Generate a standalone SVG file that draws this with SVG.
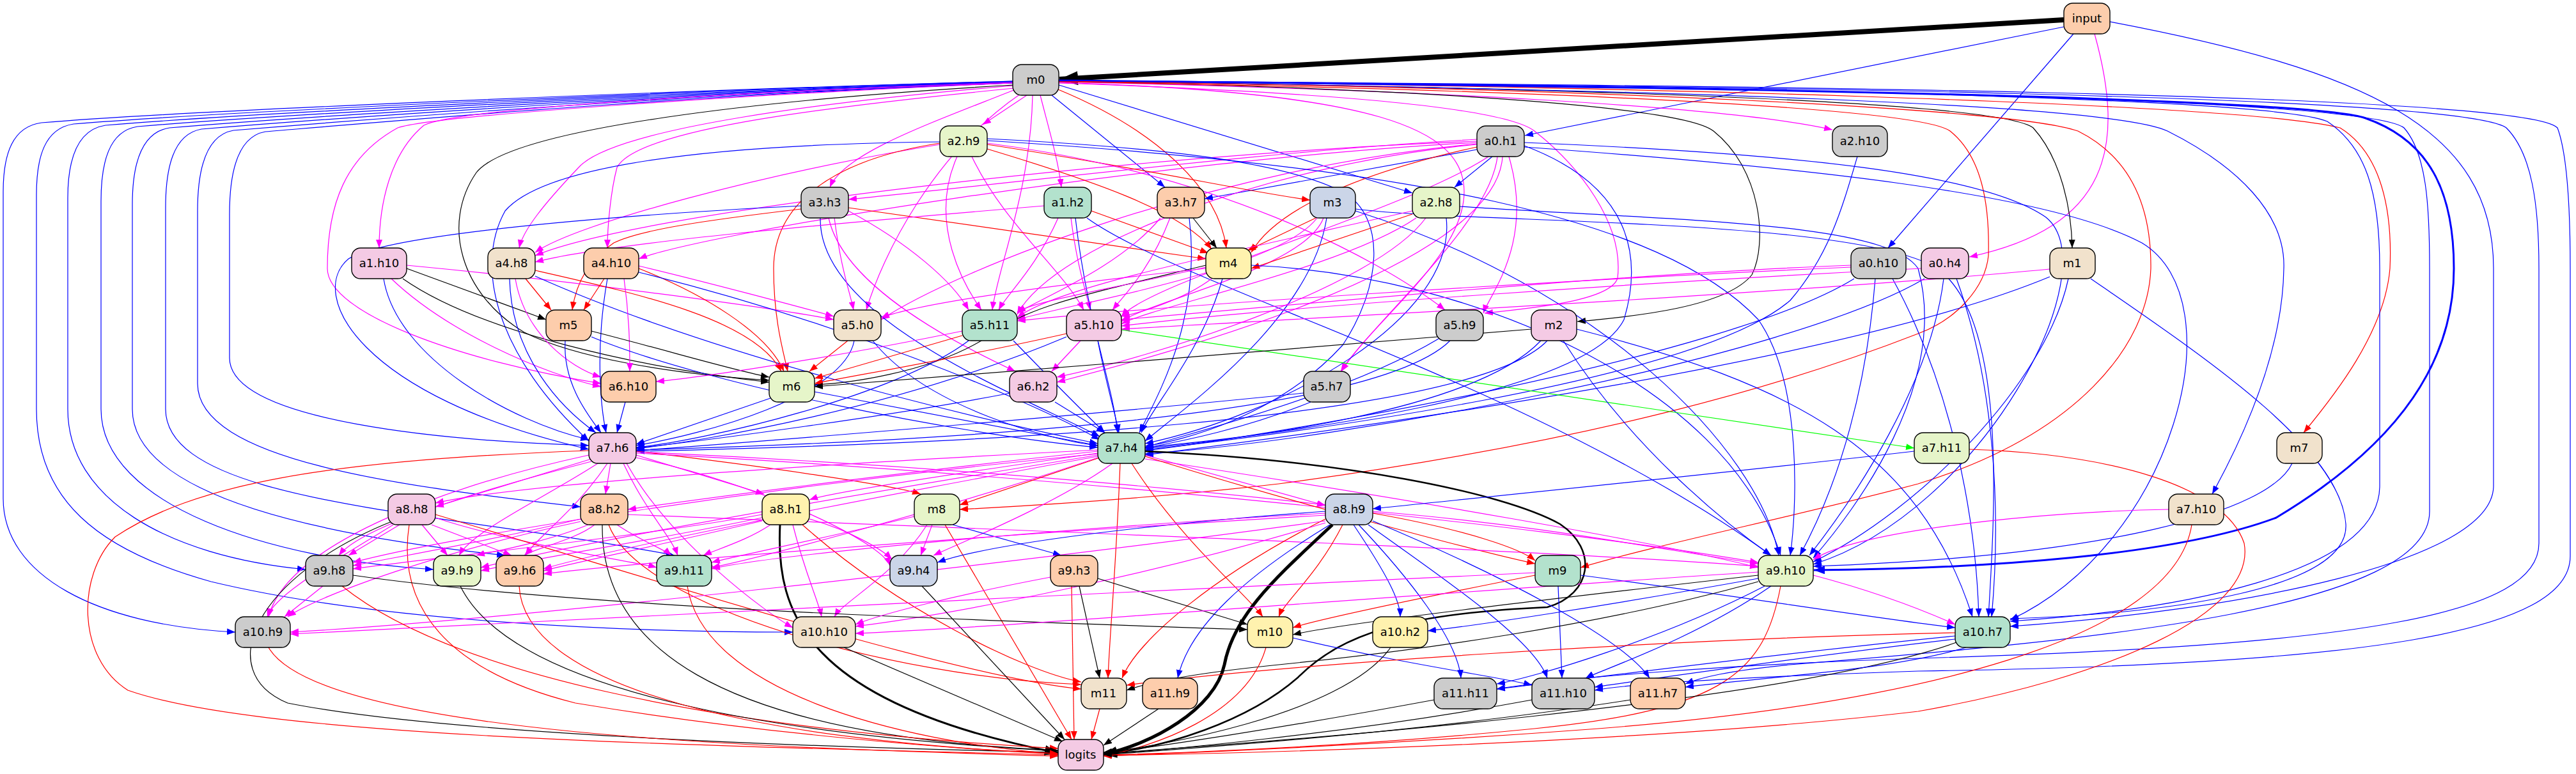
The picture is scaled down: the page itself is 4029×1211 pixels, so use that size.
<svg xmlns="http://www.w3.org/2000/svg" width="4029" height="1211" viewBox="0 0 4029 1211">
<style>
#edges path{fill:none;stroke-width:1.2}
.b{stroke:#0000ff;marker-end:url(#ab)}
.m{stroke:#ff00ff;marker-end:url(#am)}
.r{stroke:#ff0000;marker-end:url(#ar)}
.k{stroke:#000000;marker-end:url(#ak)}
.g{stroke:#00ff00;marker-end:url(#ag)}
.node rect{stroke:#000;stroke-width:1.4}
.node text{font-family:"DejaVu Sans","Liberation Sans",sans-serif;font-size:18px;text-anchor:middle;fill:#000}
.c1{fill:#b3e2cd}.c2{fill:#fdcdac}.c3{fill:#cbd5e8}.c4{fill:#f4cae4}.c5{fill:#e6f5c9}.c6{fill:#fff2ae}.c7{fill:#f1e2cc}.c8{fill:#cccccc}
</style>
<defs>
<marker id="ab" markerUnits="userSpaceOnUse" markerWidth="14" markerHeight="10" refX="13" refY="5" orient="auto"><path d="M0,0L13,5L0,10z" fill="#0000ff"/></marker>
<marker id="am" markerUnits="userSpaceOnUse" markerWidth="14" markerHeight="10" refX="13" refY="5" orient="auto"><path d="M0,0L13,5L0,10z" fill="#ff00ff"/></marker>
<marker id="ar" markerUnits="userSpaceOnUse" markerWidth="14" markerHeight="10" refX="13" refY="5" orient="auto"><path d="M0,0L13,5L0,10z" fill="#ff0000"/></marker>
<marker id="ak" markerUnits="userSpaceOnUse" markerWidth="14" markerHeight="10" refX="13" refY="5" orient="auto"><path d="M0,0L13,5L0,10z" fill="#000000"/></marker>
<marker id="ag" markerUnits="userSpaceOnUse" markerWidth="14" markerHeight="10" refX="13" refY="5" orient="auto"><path d="M0,0L13,5L0,10z" fill="#00ff00"/></marker>
<marker id="akL" markerUnits="userSpaceOnUse" markerWidth="30" markerHeight="22" refX="29" refY="11" orient="auto"><path d="M0,0L29,11L0,22z" fill="#000000"/></marker>
<marker id="akM" markerUnits="userSpaceOnUse" markerWidth="22" markerHeight="16" refX="21" refY="8" orient="auto"><path d="M0,0L21,8L0,16z" fill="#000000"/></marker>
<marker id="abM" markerUnits="userSpaceOnUse" markerWidth="18" markerHeight="13" refX="17" refY="6.5" orient="auto"><path d="M0,0L17,6.5L0,13z" fill="#0000ff"/></marker>
</defs>
<rect width="4029" height="1211" fill="#ffffff"/>
<g id="edges">
<path class="k" style="stroke-width:8;marker-end:url(#akL)" d="M3228,31 L1657,124"/>
<path class="b" d="M3228,42 L2385,212"/>
<path class="b" d="M3243,53 L2953,388"/>
<path class="m" d="M3276,53 C3325,230 3300,355 3080,402"/>
<path class="b" d="M3300,34 C3700,110 3900,200 3900,420 L3900,760 C3900,880 3500,955 3144,980"/>
<path class="b" d="M1584,127 C1100,140 305,172 65,192 C20,198 5,240 5,300 L5,780 C5,900 150,978 368,989"/>
<path class="b" d="M1584,127 C1100,141 355,174 115,194 C70,201 57,245 57,305 L57,640 C57,780 150,860 330,910 C600,975 1000,989 1240,989"/>
<path class="b" d="M1584,128 C1100,142 405,176 165,196 C120,203 106,250 106,310 L106,640 C106,780 260,870 478,891"/>
<path class="b" d="M1584,128 C1100,143 455,178 215,198 C170,205 158,255 158,315 L158,640 C158,790 420,875 678,891"/>
<path class="b" d="M1584,129 C1100,144 505,180 265,200 C220,207 207,260 207,320 L207,640 C207,780 520,840 790,869"/>
<path class="b" d="M1584,129 C1100,145 555,182 315,202 C270,210 259,265 259,325 L259,640 C259,790 700,800 1055,869"/>
<path class="b" d="M1584,130 C1100,146 605,184 365,204 C320,212 309,270 309,330 L309,600 C309,720 620,760 908,793"/>
<path class="b" d="M1584,130 C1100,147 655,186 415,206 C370,214 359,275 359,335 L359,560 C359,660 700,690 921,697"/>
<path class="m" d="M1584,129 C1200,142 720,168 663,196 C610,240 593,320 593,388"/>
<path class="m" d="M1584,130 C1200,146 680,180 622,200 C540,245 512,320 512,420 C512,490 720,565 940,600"/>
<path class="m" d="M1585,134 C1300,158 960,200 905,262 C850,320 818,360 812,388"/>
<path class="m" d="M1586,138 C1260,170 995,205 965,262 C955,300 950,355 950,388"/>
<path class="k" d="M1585,133 C1200,155 800,200 745,270 C690,350 720,460 820,520 C900,560 1050,585 1203,595"/>
<path class="m" d="M1606,149 L1537,195"/>
<path class="m" d="M1588,140 C1450,195 1320,240 1298,293"/>
<path class="m" d="M1627,149 C1640,200 1655,250 1660,293"/>
<path class="b" d="M1645,149 L1822,293"/>
<path class="r" d="M1655,140 C1800,200 1905,290 1918,388"/>
<path class="b" d="M1656,133 L2209,302"/>
<path class="m" d="M1656,128 C2200,140 2700,165 2866,203"/>
<path class="k" d="M1656,127 C2500,138 3130,160 3180,200 C3225,250 3240,330 3241,388"/>
<path class="k" d="M1656,127 C2200,138 2630,165 2680,205 C2755,265 2765,380 2740,430 C2700,480 2560,495 2467,503"/>
<path class="m" d="M1656,130 C2100,145 2355,170 2400,205 C2470,260 2540,350 2530,435 C2520,470 2400,482 2322,490"/>
<path class="m" d="M1615,149 C1612,300 1560,420 1552,485"/>
<path class="m" d="M1596,147 C1460,240 1380,400 1355,485"/>
<path class="m" d="M1656,129 C2150,145 2290,200 2290,300 C2290,400 2150,500 2097,581"/>
<path class="r" d="M1656,126 C2500,134 3500,160 3660,200 C3725,240 3742,330 3738,420 C3730,520 3650,620 3603,677"/>
<path class="b" style="stroke-width:3;marker-end:url(#abM)" d="M1656,126 C2500,134 3600,150 3700,185 C3800,220 3838,300 3838,420 C3838,560 3760,690 3560,810 C3400,870 3100,890 2837,892"/>
<path class="b" d="M1656,127 C2600,140 3300,162 3390,205 C3500,260 3575,335 3572,420 C3570,560 3500,700 3460,773"/>
<path class="r" d="M1656,128 C2400,140 3000,168 3050,205 C3100,245 3112,320 3110,400 C3105,450 3060,500 3000,522 C2800,600 2500,690 2000,757 C1800,780 1600,792 1501,797"/>
<path class="r" d="M1656,127 C2500,138 3150,170 3250,205 C3330,245 3365,320 3364,420 C3360,540 3250,680 3000,757 C2800,810 2600,850 2472,888"/>
<path class="b" d="M1656,126 C2600,134 3550,150 3640,190 C3700,230 3722,300 3722,420 L3722,760 C3722,900 3400,955 3144,972"/>
<path class="b" d="M1656,126 C2700,134 3850,148 3920,200 C3960,240 3971,320 3971,420 L3971,850 C3971,960 3700,1010 3000,1030 C2700,1040 2450,1060 2341,1078"/>
<path class="b" d="M1656,126 C2700,133 3950,145 4000,200 C4015,240 4020,320 4020,420 L4020,870 C4020,990 3700,1040 3000,1050 C2700,1060 2550,1070 2494,1080"/>
<path class="b" d="M1656,126 C2600,134 3700,150 3760,200 C3795,240 3800,320 3800,420 L3800,800 C3800,950 3300,1000 2800,1040 C2700,1050 2660,1060 2636,1070"/>
<path class="b" d="M2905,245 C2880,330 2860,400 2800,470 C2650,600 2000,680 1791,704"/>
<path class="m" d="M2310,218 C2000,235 1600,285 1327,312"/>
<path class="b" d="M2310,234 L1884,311"/>
<path class="b" d="M2334,245 L2275,293"/>
<path class="r" d="M2310,230 C2150,265 2000,320 1957,395"/>
<path class="m" d="M2310,221 C1800,240 1000,330 837,400"/>
<path class="m" d="M2310,223 C1800,250 1100,365 999,405"/>
<path class="m" d="M2310,226 C2000,255 1650,380 1591,492"/>
<path class="m" d="M2328,245 C2200,330 1800,440 1754,495"/>
<path class="m" d="M2310,225 C1900,262 1500,420 1378,500"/>
<path class="m" d="M2342,245 C2330,350 2150,500 2098,581"/>
<path class="m" d="M2360,245 C2400,380 2330,460 2320,490"/>
<path class="m" d="M2350,245 C2340,420 1800,560 1653,598"/>
<path class="b" d="M2384,228 C2550,290 2570,400 2540,500 C2480,620 2000,680 1791,700"/>
<path class="b" d="M2384,223 C2800,240 3100,270 3200,340 C3300,420 3100,800 2836,883"/>
<path class="b" d="M2384,230 C2800,260 3200,300 3350,380 C3500,470 3400,850 3144,970"/>
<path class="r" d="M1544,226 C1800,265 1950,300 2049,313"/>
<path class="r" d="M1544,233 C1700,280 1850,330 1895,390"/>
<path class="m" d="M1470,226 C1200,270 900,350 837,395"/>
<path class="b" d="M1470,222 C1100,226 850,260 790,330 C740,420 780,560 921,690"/>
<path class="r" d="M1470,224 C1300,250 1210,320 1210,420 C1210,500 1225,550 1232,581"/>
<path class="m" d="M1497,245 C1450,350 1510,450 1535,485"/>
<path class="m" d="M1520,245 C1570,350 1660,420 1695,485"/>
<path class="b" d="M1544,217 C1800,230 2000,250 2100,300 C2170,340 2160,450 2100,540 C2000,650 1850,690 1791,698"/>
<path class="b" d="M1544,220 C2200,260 2600,340 2750,500 C2820,600 2810,800 2800,869"/>
<path class="m" d="M1544,224 C1900,270 2150,400 2260,485"/>
<path class="r" d="M1327,325 L1886,405"/>
<path class="r" d="M1253,327 C1100,345 1000,360 960,380 C915,410 900,450 895,485"/>
<path class="b" d="M1253,322 C900,340 600,370 545,405 C480,460 560,620 921,703"/>
<path class="b" d="M1283,341 C1280,500 1600,620 1720,683"/>
<path class="m" d="M1296,341 C1320,450 1500,540 1588,581"/>
<path class="m" d="M1305,341 C1315,420 1330,460 1335,485"/>
<path class="m" d="M1327,330 C1420,380 1490,440 1515,485"/>
<path class="r" d="M1707,330 L1890,396"/>
<path class="m" d="M1655,341 C1620,420 1575,460 1562,485"/>
<path class="m" d="M1675,341 C1685,420 1700,460 1705,485"/>
<path class="b" d="M1682,341 C1700,500 1740,600 1748,677"/>
<path class="m" d="M1633,322 C1300,350 950,380 837,410"/>
<path class="b" d="M1700,341 C1850,450 2400,600 2770,869"/>
<path class="k" d="M1866,341 L1903,388"/>
<path class="m" d="M1830,341 C1800,420 1760,460 1740,485"/>
<path class="b" d="M1860,341 C1880,500 1810,620 1782,677"/>
<path class="m" d="M1815,341 C1750,420 1620,470 1591,490"/>
<path class="r" d="M2058,341 L1951,392"/>
<path class="m" d="M2070,341 C2040,420 1800,470 1754,503"/>
<path class="m" d="M2060,341 C2000,420 1700,470 1591,500"/>
<path class="b" d="M2120,330 C2500,450 2750,700 2782,869"/>
<path class="b" d="M2120,327 C2300,350 2900,340 3030,420 C3140,500 3120,800 3110,965"/>
<path class="b" d="M2075,341 C2050,500 1850,640 1791,690"/>
<path class="r" d="M2209,335 L1957,420"/>
<path class="m" d="M2209,330 C1900,400 1650,450 1591,497"/>
<path class="m" d="M2215,341 C2100,420 1800,480 1754,507"/>
<path class="b" d="M2283,323 C2600,345 2950,345 3000,420 C3050,600 2900,800 2836,873"/>
<path class="b" d="M2262,341 C2280,500 2000,650 1791,694"/>
<path class="m" d="M2230,341 C2150,450 1800,560 1653,590"/>
<path class="k" d="M636,420 L854,500"/>
<path class="k" d="M630,436 C750,520 1000,575 1203,598"/>
<path class="m" d="M636,415 C900,440 1200,480 1304,500"/>
<path class="m" d="M612,436 C700,520 850,585 940,605"/>
<path class="b" d="M600,436 C620,560 800,660 921,688"/>
<path class="r" d="M822,436 L862,485"/>
<path class="b" d="M797,436 C800,560 880,640 932,677"/>
<path class="m" d="M806,436 C820,520 890,575 940,590"/>
<path class="b" d="M837,432 C1100,550 1500,650 1717,694"/>
<path class="r" d="M837,423 C1000,460 1180,500 1222,581"/>
<path class="r" d="M945,436 L913,485"/>
<path class="m" d="M976,436 C985,500 985,550 985,581"/>
<path class="b" d="M950,436 C930,550 940,640 948,677"/>
<path class="r" d="M999,420 C1100,460 1200,520 1226,581"/>
<path class="b" d="M999,426 C1300,500 1600,620 1720,688"/>
<path class="m" d="M999,416 C1100,440 1250,480 1304,495"/>
<path class="k" d="M1886,415 C1700,460 1600,480 1540,530 C1450,585 1320,600 1274,602"/>
<path class="m" d="M1886,418 C1750,450 1620,470 1591,488"/>
<path class="m" d="M1895,436 C1850,470 1780,490 1754,495"/>
<path class="m" d="M1886,420 C1700,440 1450,470 1378,497"/>
<path class="b" d="M1912,436 C1880,550 1800,640 1785,677"/>
<path class="b" d="M1957,415 C2300,430 2700,600 2785,869"/>
<path class="m" d="M2895,415 C2500,430 2000,480 1754,500"/>
<path class="m" d="M2895,418 C2400,440 1800,480 1591,502"/>
<path class="b" d="M2933,436 C2920,600 2880,750 2815,869"/>
<path class="b" d="M2900,436 C2700,560 2000,680 1791,705"/>
<path class="b" d="M2960,436 C3050,600 3090,800 3095,965"/>
<path class="m" d="M3005,420 C2600,440 2000,480 1754,510"/>
<path class="b" d="M3040,436 C3020,600 2900,780 2830,869"/>
<path class="b" d="M3010,436 C2800,560 2100,690 1791,710"/>
<path class="b" d="M3060,436 C3120,600 3130,800 3115,965"/>
<path class="m" d="M3206,421 C2800,460 2000,500 1754,515"/>
<path class="b" d="M3206,433 C2900,560 2200,660 1791,712"/>
<path class="b" d="M3235,436 C3200,600 3000,800 2836,879"/>
<path class="b" d="M3270,436 C3450,560 3660,700 3669,820 C3675,920 3400,960 3144,968"/>
<path class="k" d="M925,518 C1050,550 1150,580 1203,590"/>
<path class="b" d="M884,533 C880,600 920,650 940,677"/>
<path class="b" d="M925,527 C1100,600 1500,680 1717,700"/>
<path class="r" d="M1326,533 L1266,581"/>
<path class="b" d="M1336,533 C1320,620 1100,680 995,697"/>
<path class="b" d="M1365,533 C1450,640 1650,690 1717,697"/>
<path class="r" d="M1505,525 L1274,592"/>
<path class="b" d="M1515,533 C1400,620 1100,690 995,700"/>
<path class="b" d="M1585,533 C1650,600 1700,650 1728,677"/>
<path class="m" d="M1505,518 C1300,560 1100,590 1026,597"/>
<path class="r" d="M1668,522 C1500,560 1350,585 1274,600"/>
<path class="m" d="M1690,533 L1645,581"/>
<path class="b" d="M1668,527 C1400,640 1100,690 995,702"/>
<path class="b" d="M1717,533 C1730,600 1745,650 1750,677"/>
<path class="g" d="M1754,516 L2994,701"/>
<path class="b" d="M2250,530 C2100,620 1850,680 1791,700"/>
<path class="b" d="M2268,533 C2150,650 1500,690 995,704"/>
<path class="k" d="M2395,515 C2100,540 1600,580 1274,605"/>
<path class="b" d="M2410,533 C2300,650 1900,690 1791,702"/>
<path class="b" d="M2420,533 C2300,660 1500,695 995,706"/>
<path class="b" d="M2445,533 C2550,700 2700,820 2770,869"/>
<path class="b" d="M2466,515 C2800,600 3000,700 3085,965"/>
<path class="b" d="M978,629 L965,677"/>
<path class="b" d="M1205,623 L995,695"/>
<path class="b" d="M1274,613 L1717,697"/>
<path class="b" d="M1580,615 C1400,650 1100,690 995,701"/>
<path class="b" d="M1650,629 L1728,677"/>
<path class="b" d="M2039,615 C1700,650 1200,690 995,705"/>
<path class="b" d="M2050,629 C1950,670 1850,690 1791,701"/>
<path class="m" d="M925,718 L681,793"/>
<path class="m" d="M955,725 L947,773"/>
<path class="m" d="M995,712 L1195,773"/>
<path class="r" d="M995,706 C1200,730 1400,760 1440,773"/>
<path class="m" d="M925,722 C700,780 560,830 530,869"/>
<path class="m" d="M935,725 C850,780 740,830 718,869"/>
<path class="m" d="M950,725 C900,800 840,840 822,869"/>
<path class="m" d="M975,725 C1010,800 1050,840 1060,869"/>
<path class="m" d="M995,716 C1200,760 1380,850 1392,885"/>
<path class="m" d="M921,712 C700,760 450,850 420,965"/>
<path class="m" d="M980,725 C1050,850 1200,960 1240,982"/>
<path class="m" d="M995,707 C1500,730 1900,770 2073,790"/>
<path class="r" d="M921,705 C500,720 300,760 180,840 C120,900 120,1030 200,1080 C400,1150 1000,1165 1655,1181"/>
<path class="m" d="M995,709 C1600,740 2400,820 2750,880"/>
<path class="r" d="M1720,716 L1501,790"/>
<path class="m" d="M1717,709 C1500,740 1300,770 1266,782"/>
<path class="m" d="M1717,706 C1400,740 1100,780 982,797"/>
<path class="m" d="M1717,704 C1200,730 800,760 681,787"/>
<path class="m" d="M1791,712 L2073,791"/>
<path class="m" d="M1717,710 C1200,760 700,840 552,880"/>
<path class="m" d="M1717,712 C1300,780 900,850 752,888"/>
<path class="m" d="M1717,714 C1300,790 950,860 850,890"/>
<path class="m" d="M1717,716 C1500,790 1200,870 1113,888"/>
<path class="m" d="M1740,725 C1650,790 1500,850 1460,869"/>
<path class="m" d="M1791,718 C2200,780 2600,850 2750,888"/>
<path class="r" d="M1791,714 C2000,780 2300,860 2401,882"/>
<path class="r" d="M1752,725 C1745,900 1735,1000 1733,1061"/>
<path class="k" style="stroke-width:2.5;marker-end:url(#akM)" d="M1791,706 C2100,720 2350,770 2440,820 C2500,860 2490,930 2420,950 C2200,960 2100,990 2030,1060 C1950,1130 1820,1170 1726,1180"/>
<path class="r" d="M1770,725 C1850,850 1950,930 1975,965"/>
<path class="r" d="M3080,703 C3300,710 3480,760 3510,850 C3530,960 3300,1060 3000,1113 C2600,1160 2000,1178 1726,1182"/>
<path class="b" d="M2994,706 C2700,740 2300,780 2147,796"/>
<path class="b" d="M3585,725 C3550,800 3300,870 2836,886"/>
<path class="m" d="M3392,797 C3200,800 2900,830 2836,876"/>
<path class="r" d="M3428,821 C3400,1000 3000,1100 2500,1140 C2100,1170 1800,1180 1726,1183"/>
<path class="m" d="M625,821 L545,869"/>
<path class="m" d="M660,821 L700,869"/>
<path class="m" d="M675,821 L800,869"/>
<path class="m" d="M615,821 C520,880 430,930 418,965"/>
<path class="m" d="M681,810 C800,850 1000,880 1027,888"/>
<path class="k" d="M615,815 C400,900 330,1050 450,1100 C700,1150 1300,1170 1655,1177"/>
<path class="r" d="M640,821 C620,950 700,1050 900,1100 C1200,1150 1500,1172 1655,1180"/>
<path class="r" d="M681,805 C1000,900 1500,1060 1691,1078"/>
<path class="m" d="M930,821 C900,845 830,860 820,869"/>
<path class="m" d="M920,821 C850,850 760,865 745,869"/>
<path class="m" d="M908,812 C750,850 600,875 552,885"/>
<path class="m" d="M965,821 C1000,845 1040,860 1050,869"/>
<path class="m" d="M908,816 C700,860 500,930 450,965"/>
<path class="k" d="M942,821 C940,1000 1100,1150 1655,1174"/>
<path class="r" d="M952,821 C1000,950 1400,1060 1691,1071"/>
<path class="m" d="M982,805 C1600,830 2400,860 2750,886"/>
<path class="k" style="stroke-width:3;marker-end:url(#akM)" d="M1220,821 C1213,960 1260,1100 1655,1178"/>
<path class="m" d="M1205,821 C1170,845 1120,860 1100,869"/>
<path class="m" d="M1266,812 C1330,830 1380,860 1395,875"/>
<path class="m" d="M1192,805 C1000,840 700,870 552,890"/>
<path class="m" d="M1192,810 C1000,850 850,870 752,893"/>
<path class="m" d="M1192,815 C1000,860 900,880 850,893"/>
<path class="m" d="M1240,821 C1260,900 1280,940 1285,965"/>
<path class="r" d="M1255,821 C1400,950 1600,1050 1691,1067"/>
<path class="b" d="M1490,821 L1660,869"/>
<path class="m" d="M1458,821 L1440,869"/>
<path class="m" d="M1450,821 C1400,900 1320,940 1305,965"/>
<path class="r" d="M1478,821 L1676,1157"/>
<path class="m" d="M1430,808 C1300,840 1150,870 1113,880"/>
<path class="k" style="stroke-width:5;marker-end:url(#akM)" d="M2084,821 C2000,900 1930,960 1915,1040 C1900,1110 1800,1165 1726,1180"/>
<path class="r" d="M2147,803 C2300,830 2380,860 2401,877"/>
<path class="m" d="M2147,800 C2400,820 2600,860 2750,882"/>
<path class="b" d="M2117,821 C2170,900 2190,940 2190,965"/>
<path class="b" d="M2125,821 C2200,900 2280,1000 2285,1061"/>
<path class="b" d="M2140,821 C2250,900 2400,1000 2420,1061"/>
<path class="b" d="M2147,815 C2350,900 2540,1000 2580,1061"/>
<path class="b" d="M2080,821 C1950,900 1860,980 1842,1061"/>
<path class="r" d="M2100,821 C2060,900 2010,940 2000,965"/>
<path class="r" d="M2073,812 C1900,900 1780,1000 1755,1061"/>
<path class="b" d="M2073,800 C1800,820 1550,850 1466,880"/>
<path class="m" d="M2073,803 C1600,830 1200,870 1113,890"/>
<path class="m" d="M2073,806 C1500,840 1000,880 850,898"/>
<path class="m" d="M2073,815 C1600,880 800,970 454,989"/>
<path class="m" d="M2073,818 C1800,900 1500,960 1338,980"/>
<path class="m" d="M505,917 L445,965"/>
<path class="k" d="M552,900 C900,950 1500,970 1951,985"/>
<path class="r" d="M535,917 C700,1050 1100,1140 1655,1171"/>
<path class="k" d="M720,917 C800,1080 1200,1150 1655,1175"/>
<path class="r" d="M812,917 C820,1080 1200,1160 1655,1179"/>
<path class="r" d="M1075,917 C1100,1080 1400,1160 1655,1180"/>
<path class="k" d="M1442,917 L1665,1157"/>
<path class="k" d="M1688,917 L1720,1061"/>
<path class="r" d="M1676,917 L1680,1157"/>
<path class="k" d="M1717,905 L1951,977"/>
<path class="m" d="M1643,903 C1500,930 1380,960 1338,977"/>
<path class="b" d="M2437,917 L2443,1061"/>
<path class="r" d="M2401,900 C2200,940 2060,970 2022,982"/>
<path class="m" d="M2401,896 C1800,920 800,980 454,992"/>
<path class="b" d="M2472,900 C2700,930 2950,970 3058,982"/>
<path class="k" d="M2750,900 C2400,940 2100,975 2022,993"/>
<path class="b" d="M2750,905 C2500,950 2300,980 2233,987"/>
<path class="b" d="M2760,917 C2600,1000 2400,1060 2341,1070"/>
<path class="k" d="M2750,910 C2500,980 2200,1020 2000,1040 C1850,1055 1790,1070 1762,1080"/>
<path class="r" d="M2785,917 C2760,1050 2700,1110 2400,1140 C2100,1170 1800,1180 1726,1181"/>
<path class="m" d="M2750,895 C2200,930 1600,980 1338,991"/>
<path class="m" d="M2836,900 C2950,930 3020,960 3058,977"/>
<path class="b" d="M2770,917 C2650,1000 2500,1050 2480,1061"/>
<path class="r" d="M420,1013 C500,1150 1200,1170 1655,1183"/>
<path class="k" d="M1320,1013 L1662,1160"/>
<path class="r" d="M1980,1013 C1950,1120 1800,1170 1726,1182"/>
<path class="b" d="M2022,998 C2200,1040 2350,1060 2396,1072"/>
<path class="k" d="M2175,1013 C2100,1120 1800,1170 1726,1177"/>
<path class="k" d="M3060,1005 C2800,1100 2000,1160 1726,1179"/>
<path class="r" d="M3058,990 C2600,1000 2000,1040 1762,1072"/>
<path class="b" d="M3058,995 C2800,1020 2500,1060 2341,1078"/>
<path class="b" d="M3075,1013 C2950,1050 2750,1060 2636,1075"/>
<path class="b" d="M3058,1000 C2800,1030 2600,1060 2494,1075"/>
<path class="r" d="M1720,1109 L1707,1157"/>
<path class="k" d="M1812,1109 L1726,1166"/>
<path class="k" d="M2243,1095 C2000,1140 1800,1170 1726,1178"/>
<path class="k" d="M2396,1095 C2100,1150 1800,1175 1726,1180"/>
<path class="k" d="M2550,1095 C2200,1150 1800,1175 1726,1181"/>
</g>
<g id="nodes">
<g id="n-input" class="node"><rect class="c2" x="3228" y="5" width="72" height="48" rx="14"/><text x="3264" y="35">input</text></g>
<g id="n-m0" class="node"><rect class="c8" x="1584" y="101" width="72" height="48" rx="14"/><text x="1620" y="131">m0</text></g>
<g id="n-a2.h9" class="node"><rect class="c5" x="1470" y="197" width="74" height="48" rx="14"/><text x="1507" y="227">a2.h9</text></g>
<g id="n-a0.h1" class="node"><rect class="c8" x="2310" y="197" width="74" height="48" rx="14"/><text x="2347" y="227">a0.h1</text></g>
<g id="n-a2.h10" class="node"><rect class="c8" x="2866" y="197" width="86" height="48" rx="14"/><text x="2909" y="227">a2.h10</text></g>
<g id="n-a3.h3" class="node"><rect class="c8" x="1253" y="293" width="74" height="48" rx="14"/><text x="1290" y="323">a3.h3</text></g>
<g id="n-a1.h2" class="node"><rect class="c1" x="1633" y="293" width="74" height="48" rx="14"/><text x="1670" y="323">a1.h2</text></g>
<g id="n-a3.h7" class="node"><rect class="c2" x="1810" y="293" width="74" height="48" rx="14"/><text x="1847" y="323">a3.h7</text></g>
<g id="n-m3" class="node"><rect class="c3" x="2049" y="293" width="71" height="48" rx="14"/><text x="2084" y="323">m3</text></g>
<g id="n-a2.h8" class="node"><rect class="c5" x="2209" y="293" width="74" height="48" rx="14"/><text x="2246" y="323">a2.h8</text></g>
<g id="n-a1.h10" class="node"><rect class="c4" x="550" y="388" width="86" height="48" rx="14"/><text x="593" y="418">a1.h10</text></g>
<g id="n-a4.h8" class="node"><rect class="c7" x="763" y="388" width="74" height="48" rx="14"/><text x="800" y="418">a4.h8</text></g>
<g id="n-a4.h10" class="node"><rect class="c2" x="913" y="388" width="86" height="48" rx="14"/><text x="956" y="418">a4.h10</text></g>
<g id="n-m4" class="node"><rect class="c6" x="1886" y="388" width="71" height="48" rx="14"/><text x="1921" y="418">m4</text></g>
<g id="n-a0.h10" class="node"><rect class="c8" x="2895" y="388" width="86" height="48" rx="14"/><text x="2938" y="418">a0.h10</text></g>
<g id="n-a0.h4" class="node"><rect class="c4" x="3005" y="388" width="74" height="48" rx="14"/><text x="3042" y="418">a0.h4</text></g>
<g id="n-m1" class="node"><rect class="c7" x="3206" y="388" width="71" height="48" rx="14"/><text x="3241" y="418">m1</text></g>
<g id="n-m5" class="node"><rect class="c2" x="854" y="485" width="71" height="48" rx="14"/><text x="889" y="515">m5</text></g>
<g id="n-a5.h0" class="node"><rect class="c7" x="1304" y="485" width="74" height="48" rx="14"/><text x="1341" y="515">a5.h0</text></g>
<g id="n-a5.h11" class="node"><rect class="c1" x="1505" y="485" width="86" height="48" rx="14"/><text x="1548" y="515">a5.h11</text></g>
<g id="n-a5.h10" class="node"><rect class="c4" x="1668" y="485" width="86" height="48" rx="14"/><text x="1711" y="515">a5.h10</text></g>
<g id="n-a5.h9" class="node"><rect class="c8" x="2246" y="485" width="74" height="48" rx="14"/><text x="2283" y="515">a5.h9</text></g>
<g id="n-m2" class="node"><rect class="c4" x="2395" y="485" width="71" height="48" rx="14"/><text x="2430" y="515">m2</text></g>
<g id="n-a6.h10" class="node"><rect class="c2" x="940" y="581" width="86" height="48" rx="14"/><text x="983" y="611">a6.h10</text></g>
<g id="n-m6" class="node"><rect class="c5" x="1203" y="581" width="71" height="48" rx="14"/><text x="1238" y="611">m6</text></g>
<g id="n-a6.h2" class="node"><rect class="c4" x="1579" y="581" width="74" height="48" rx="14"/><text x="1616" y="611">a6.h2</text></g>
<g id="n-a5.h7" class="node"><rect class="c8" x="2039" y="581" width="73" height="48" rx="14"/><text x="2075" y="611">a5.h7</text></g>
<g id="n-a7.h6" class="node"><rect class="c4" x="921" y="677" width="74" height="48" rx="14"/><text x="958" y="707">a7.h6</text></g>
<g id="n-a7.h4" class="node"><rect class="c1" x="1717" y="677" width="74" height="48" rx="14"/><text x="1754" y="707">a7.h4</text></g>
<g id="n-a7.h11" class="node"><rect class="c5" x="2994" y="677" width="86" height="48" rx="14"/><text x="3037" y="707">a7.h11</text></g>
<g id="n-m7" class="node"><rect class="c7" x="3561" y="677" width="71" height="48" rx="14"/><text x="3596" y="707">m7</text></g>
<g id="n-a8.h8" class="node"><rect class="c4" x="607" y="773" width="74" height="48" rx="14"/><text x="644" y="803">a8.h8</text></g>
<g id="n-a8.h2" class="node"><rect class="c2" x="908" y="773" width="74" height="48" rx="14"/><text x="945" y="803">a8.h2</text></g>
<g id="n-a8.h1" class="node"><rect class="c6" x="1192" y="773" width="74" height="48" rx="14"/><text x="1229" y="803">a8.h1</text></g>
<g id="n-m8" class="node"><rect class="c5" x="1430" y="773" width="71" height="48" rx="14"/><text x="1465" y="803">m8</text></g>
<g id="n-a8.h9" class="node"><rect class="c3" x="2073" y="773" width="74" height="48" rx="14"/><text x="2110" y="803">a8.h9</text></g>
<g id="n-a7.h10" class="node"><rect class="c7" x="3392" y="773" width="86" height="48" rx="14"/><text x="3435" y="803">a7.h10</text></g>
<g id="n-a9.h8" class="node"><rect class="c8" x="478" y="869" width="74" height="48" rx="14"/><text x="515" y="899">a9.h8</text></g>
<g id="n-a9.h9" class="node"><rect class="c5" x="678" y="869" width="74" height="48" rx="14"/><text x="715" y="899">a9.h9</text></g>
<g id="n-a9.h6" class="node"><rect class="c2" x="776" y="869" width="74" height="48" rx="14"/><text x="813" y="899">a9.h6</text></g>
<g id="n-a9.h11" class="node"><rect class="c1" x="1027" y="869" width="86" height="48" rx="14"/><text x="1070" y="899">a9.h11</text></g>
<g id="n-a9.h4" class="node"><rect class="c3" x="1392" y="869" width="74" height="48" rx="14"/><text x="1429" y="899">a9.h4</text></g>
<g id="n-a9.h3" class="node"><rect class="c2" x="1643" y="869" width="74" height="48" rx="14"/><text x="1680" y="899">a9.h3</text></g>
<g id="n-m9" class="node"><rect class="c1" x="2401" y="869" width="71" height="48" rx="14"/><text x="2436" y="899">m9</text></g>
<g id="n-a9.h10" class="node"><rect class="c5" x="2750" y="869" width="86" height="48" rx="14"/><text x="2793" y="899">a9.h10</text></g>
<g id="n-a10.h9" class="node"><rect class="c8" x="368" y="965" width="86" height="48" rx="14"/><text x="411" y="995">a10.h9</text></g>
<g id="n-a10.h10" class="node"><rect class="c7" x="1240" y="965" width="98" height="48" rx="14"/><text x="1289" y="995">a10.h10</text></g>
<g id="n-m10" class="node"><rect class="c6" x="1951" y="965" width="71" height="48" rx="14"/><text x="1986" y="995">m10</text></g>
<g id="n-a10.h2" class="node"><rect class="c6" x="2147" y="965" width="86" height="48" rx="14"/><text x="2190" y="995">a10.h2</text></g>
<g id="n-a10.h7" class="node"><rect class="c1" x="3058" y="965" width="86" height="48" rx="14"/><text x="3101" y="995">a10.h7</text></g>
<g id="n-m11" class="node"><rect class="c7" x="1691" y="1061" width="71" height="48" rx="14"/><text x="1726" y="1091">m11</text></g>
<g id="n-a11.h9" class="node"><rect class="c2" x="1787" y="1061" width="86" height="48" rx="14"/><text x="1830" y="1091">a11.h9</text></g>
<g id="n-a11.h11" class="node"><rect class="c8" x="2243" y="1061" width="98" height="48" rx="14"/><text x="2292" y="1091">a11.h11</text></g>
<g id="n-a11.h10" class="node"><rect class="c8" x="2396" y="1061" width="98" height="48" rx="14"/><text x="2445" y="1091">a11.h10</text></g>
<g id="n-a11.h7" class="node"><rect class="c2" x="2550" y="1061" width="86" height="48" rx="14"/><text x="2593" y="1091">a11.h7</text></g>
<g id="n-logits" class="node"><rect class="c4" x="1655" y="1157" width="71" height="48" rx="14"/><text x="1690" y="1187">logits</text></g>
</g>
</svg>
